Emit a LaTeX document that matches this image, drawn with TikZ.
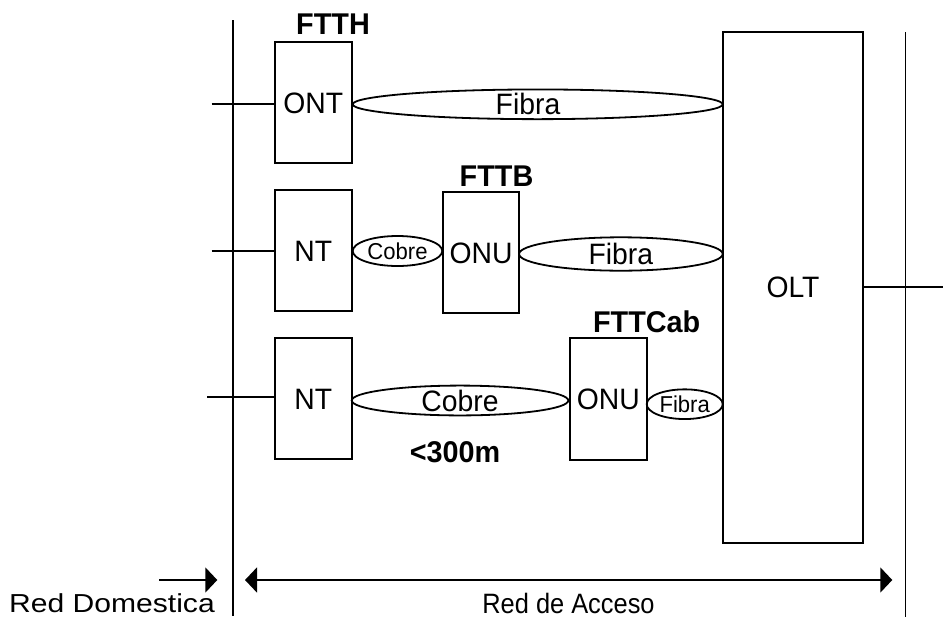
\documentclass[tikz,border=0pt]{standalone}
\usepackage{fontspec}
\setmainfont{Liberation Sans}[FakeStretch=0.96]
\newfontfamily\plainfont{Liberation Sans}
\usetikzlibrary{arrows.meta,shapes.geometric}
\begin{document}
\begin{tikzpicture}[x=1pt,y=-1pt, line width=1.8pt,
  box/.style={draw, rectangle, inner sep=0pt, font=\fontsize{29.5}{29.5}\selectfont, text height=21.1pt, text depth=0pt},
  ell/.style={draw, ellipse, inner sep=0pt},
  big/.style={font=\fontsize{29.5}{29.5}\selectfont, text height=21.1pt, text depth=0pt, inner sep=0pt},
  small/.style={font=\fontsize{23}{23}\selectfont, text height=16.5pt, text depth=0pt, inner sep=0pt},
  hdr/.style={font=\bfseries\fontsize{30}{30}\selectfont, text height=21.5pt, text depth=0pt, inner sep=0pt},
  bottomtxt/.style={text depth=0pt, inner sep=0pt},
  tipone/.style={-{Triangle[length=12pt,width=25pt]}},
  tipboth/.style={{Triangle[length=12pt,width=25pt]}-{Triangle[length=12pt,width=25pt]}},
]
\useasboundingbox (0,0) rectangle (943,619);

% boundary lines
\coordinate (vl1) at (232.7,20);
\coordinate (vl2) at (232.7,616);
\coordinate (vr1) at (905.5,32);
\coordinate (vr2) at (905.5,617);
\draw (vl1) -- (vl2);
\draw (vr1) -- (vr2);

% boxes
\node[box, minimum width=76.7pt, minimum height=121.6pt] (ONT) at (313.35,102.5) {ONT};
\node[box, minimum width=76.7pt, minimum height=121pt] (NT2) at (313.35,250.5) {NT};
\node[box, minimum width=75.7pt, minimum height=121pt] (ONU2) at (481.15,252.8) {ONU};
\node[box, minimum width=76.7pt, minimum height=121pt] (NT3) at (313.35,398.8) {NT};
\node[box, minimum width=76.7pt, minimum height=121.7pt] (ONU3) at (608.35,399.15) {ONU};
\node[box, minimum width=140.6pt, minimum height=511pt] (OLT) at (793,287.2) {OLT};

% ellipses (links)
\node[ell, minimum width=370pt, minimum height=29.7pt] (f1) at (537.7,104.3) {};
\node[big] (f1t) at (528,104.3) {Fibra};
\node[ell, small, draw, ellipse, minimum width=89.6pt, minimum height=30pt] (c2) at (397.5,251) {Cobre};
\node[ell, big, draw, ellipse, minimum width=203.7pt, minimum height=33.4pt] (f2) at (620.85,254) {Fibra};
\node[ell, big, draw, ellipse, minimum width=216.6pt, minimum height=29.3pt] (c3) at (460,400.5) {Cobre};
\node[ell, small, draw, ellipse, minimum width=76pt, minimum height=29.7pt] (f3) at (684.7,404.2) {Fibra};

% headers
\node[hdr] (ftth) at (333,23.5) {FTTH};
\node[hdr] (fttb) at (496.5,175.7) {FTTB};
\node[hdr] (fttcab) at (646.7,322) {FTTCab};
\node[hdr] (dist) at (455,452) {<300m};

% stubs
\coordinate (a1) at (211.7,104);
\coordinate (a2) at (211.7,250.7);
\coordinate (a3) at (207.3,397.3);
\coordinate (o1) at (943,287.3);
\draw (a1) -- (a1 -| ONT.west);
\draw (a2) -- (a2 -| NT2.west);
\draw (a3) -- (a3 -| NT3.west);
\draw (OLT.east |- o1) -- (o1);

% bottom arrows
\coordinate (ra) at (245,580);
\coordinate (rb) at (892.3,580);
\coordinate (da) at (159.3,580);
\coordinate (db) at (217.3,580);
\draw[tipboth] (ra) -- (rb);
\draw[tipone] (da) -- (db);

\node[bottomtxt, font=\plainfont\fontsize{26}{26}\selectfont, text height=18.6pt] (rdom) at (112,603.5) {\scalebox{1.157}[1]{Red Domestica}};
\node[bottomtxt, font=\plainfont\fontsize{28}{28}\selectfont, text height=20pt] (racc) at (568.5,603) {\scalebox{0.907}[1]{Red de Acceso}};
\end{tikzpicture}
\end{document}
